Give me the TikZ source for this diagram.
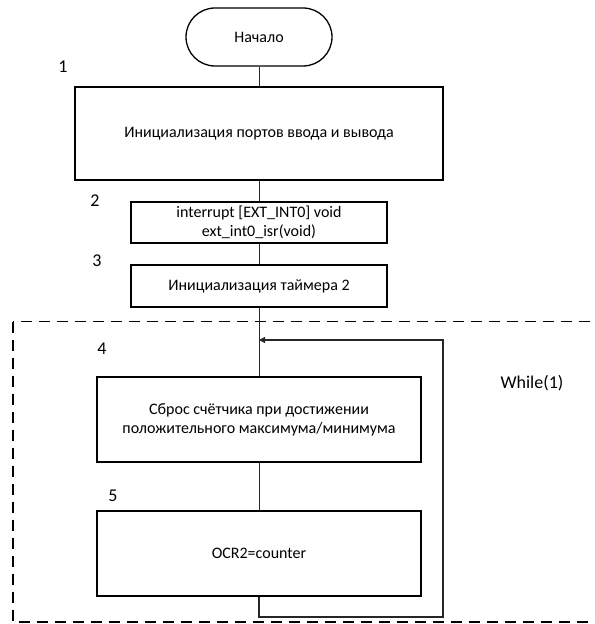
\documentclass[tikz,border=0pt]{standalone}
\usepackage{fontspec}
\setmainfont{Carlito}
\usetikzlibrary{arrows.meta}
\begin{document}
\begin{tikzpicture}[x=1bp,y=-1bp,
  blk/.style={draw=black,line width=1.3bp,rectangle,inner sep=0pt,align=center,
    font=\fontsize{16bp}{19bp}\selectfont},
  term/.style={blk,rounded corners=29bp},
  conn/.style={draw=black!85,line width=0.9bp},
  numlbl/.style={font=\fontsize{18bp}{21bp}\selectfont,inner sep=0pt},
  loopbox/.style={draw=black,line width=1.4bp,dash pattern=on 11bp off 7bp}]
\useasboundingbox (0,0) rectangle (595,624);
\clip (0,0) rectangle (595,624);
\node[term,minimum width=146bp,minimum height=58bp] (start) at (259,37) {Начало};
\node[blk,minimum width=368bp,minimum height=93bp] (b1) at (259,133.5) {Инициализация портов ввода и вывода};
\node[blk,minimum width=256bp,minimum height=41bp] (b2) at (259,222.5) {interrupt [EXT\_INT0] void\\ext\_int0\_isr(void)};
\node[blk,minimum width=256bp,minimum height=42bp] (b3) at (259,286) {Инициализация таймера 2};
\node[blk,minimum width=324bp,minimum height=85bp] (b4) at (259,419.5) {Сброс счётчика при достижении\\положительного максимума/минимума};
\node[blk,minimum width=324bp,minimum height=85bp] (b5) at (259,553.5) {OCR2=counter};
\node[numlbl] (l1) at (63,67) {1};
\node[numlbl] (l2) at (95,201) {2};
\node[numlbl] (l3) at (97,261) {3};
\node[numlbl] (l4) at (102,349) {4};
\node[numlbl] (l5) at (113,496) {5};
\node[numlbl] (lw) at (532,383) {While(1)};
\draw[loopbox] (13,321.5) rectangle (640,622);
\coordinate (c1) at (259,617);
\coordinate (c2) at (443,617);
\coordinate (c3) at (443,340);
\coordinate (c4) at (259,340);
\draw[conn] (start) -- (b1);
\draw[conn] (b1) -- (b2);
\draw[conn] (b2) -- (b3);
\draw[conn] (b3) -- (b4);
\draw[conn] (b4) -- (b5);
\draw[conn,line width=1.2bp,-{Triangle[length=6bp,width=6bp]}] (b5.south) -- (c1) -- (c2) -- (c3) -- (c4);
\end{tikzpicture}
\end{document}
